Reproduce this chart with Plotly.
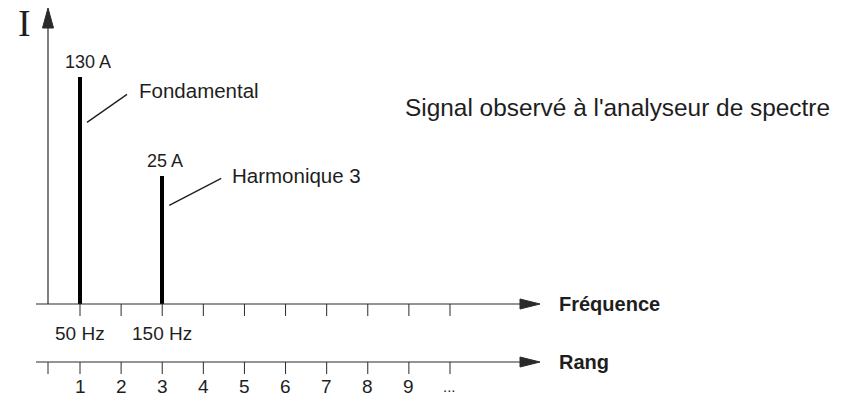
import plotly.graph_objects as go

# ---------------- data ----------------
rang = [1, 3]                       # harmonic rank of each line
freq_hz = [50, 150]                 # frequency of each line
amplitude_labels = ["130 A", "25 A"]
drawn_height = [227, 128]           # schematic bar heights as drawn
line_names = ["Fondamental", "Harmonique 3"]
rang_ticks = [1, 2, 3, 4, 5, 6, 7, 8, 9, 10]
rang_labels = ["1", "2", "3", "4", "5", "6", "7", "8", "9", "..."]
freq_labels = ["50 Hz", "150 Hz"]

# ---------------- geometry ----------------
W, H = 850, 398
PX_PER_RANG = 41.11
XMIN = 1 - 80 / PX_PER_RANG
XMAX = XMIN + W / PX_PER_RANG
Y_FREQ = 304  # pixel row of frequency axis


def px_x(p):
    return XMIN + p / PX_PER_RANG


def px_y(p):
    return Y_FREQ - p


AX_COL = "#2a2a2a"
TXT_COL = "#1e1e1e"
FONT = "Liberation Sans, Arial, sans-serif"

x_origin = px_x(48)
x_start = px_x(36)
x_tip = px_x(540)
y_rang = px_y(362)

fig = go.Figure()

# spectral lines
fig.add_trace(go.Bar(x=rang, y=drawn_height, width=0.105,
                     marker=dict(color="black", line=dict(width=0)),
                     hoverinfo="skip", showlegend=False))

# frequency axis ticks
tx, ty = [], []
for t in rang_ticks:
    tx += [t, t, None]
    ty += [0, -12, None]
fig.add_trace(go.Scatter(x=tx, y=ty, mode="lines",
                         line=dict(color=AX_COL, width=1),
                         hoverinfo="skip", showlegend=False))
# rank axis ticks
rx, ry = [], []
for t in [x_origin] + rang_ticks:
    rx += [t, t, None]
    ry += [y_rang, y_rang - 12, None]
fig.add_trace(go.Scatter(x=rx, y=ry, mode="lines",
                         line=dict(color=AX_COL, width=1),
                         hoverinfo="skip", showlegend=False))

shapes = []
# axis lines
shapes.append(dict(type="line", xref="x", yref="y", x0=x_origin, x1=x_origin,
                   y0=0, y1=px_y(26), line=dict(color=AX_COL, width=1.2)))
shapes.append(dict(type="line", xref="x", yref="y", x0=x_start, x1=px_x(522),
                   y0=0, y1=0, line=dict(color=AX_COL, width=1.2)))
shapes.append(dict(type="line", xref="x", yref="y", x0=x_start, x1=px_x(522),
                   y0=y_rang, y1=y_rang, line=dict(color=AX_COL, width=1.2)))
# arrow heads
for yy in [0, y_rang]:
    shapes.append(dict(type="path", xref="x", yref="y",
                       xsizemode="pixel", ysizemode="pixel",
                       xanchor=x_tip, yanchor=yy,
                       path="M0,0 L-20,5 L-20,-5 Z",
                       fillcolor=AX_COL, line=dict(color=AX_COL, width=1)))
shapes.append(dict(type="path", xref="x", yref="y",
                   xsizemode="pixel", ysizemode="pixel",
                   xanchor=x_origin, yanchor=px_y(8),
                   path="M0,0 L-5.5,-20 L5.5,-20 Z",
                   fillcolor=AX_COL, line=dict(color=AX_COL, width=1)))

# leader lines (start point relative to bar, end offset in px)
leader = [((7, 0.80), (40, 28)), ((7, 0.77), (52, 27))]
for i, ((dx, frac), (ex, ey)) in enumerate(leader):
    x0 = rang[i] + dx / PX_PER_RANG
    y0 = drawn_height[i] * frac
    shapes.append(dict(type="line", xref="x", yref="y",
                       x0=x0, y0=y0, x1=x0 + ex / PX_PER_RANG, y1=y0 + ey,
                       line=dict(color=TXT_COL, width=1.3)))

ann = []
# amplitude labels above lines
xsh = [8, 3]
for i in range(len(rang)):
    ann.append(dict(x=rang[i], y=drawn_height[i], text=amplitude_labels[i],
                    xref="x", yref="y", showarrow=False, xshift=xsh[i], yshift=15,
                    xanchor="center", yanchor="middle",
                    font=dict(family=FONT, size=18, color=TXT_COL)))
# names
name_pos = [(137, 90), (230, 175)]
for i, (px, py) in enumerate(name_pos):
    ann.append(dict(x=px_x(px), y=px_y(py), text=line_names[i], xref="x", yref="y",
                    showarrow=False, xanchor="left", yanchor="middle",
                    font=dict(family=FONT, size=20.5, color=TXT_COL)))
# frequency labels
for i, f in enumerate(freq_hz):
    ann.append(dict(x=f / 50, y=px_y(333), text=freq_labels[i], xref="x", yref="y",
                    showarrow=False, xanchor="center", yanchor="middle",
                    font=dict(family=FONT, size=19, color=TXT_COL)))
# rank labels
for t, lab in zip(rang_ticks, rang_labels):
    ann.append(dict(x=t, y=px_y(386), text=lab, xref="x", yref="y",
                    showarrow=False, xanchor="center", yanchor="middle",
                    font=dict(family=FONT, size=19 if lab != "..." else 15, color=TXT_COL)))
# axis titles
ann.append(dict(x=px_x(557), y=0, text="<b>Fréquence</b>", xref="x", yref="y",
                showarrow=False, xanchor="left", yanchor="middle",
                font=dict(family=FONT, size=20, color=TXT_COL)))
ann.append(dict(x=px_x(557), y=y_rang, text="<b>Rang</b>", xref="x", yref="y",
                showarrow=False, xanchor="left", yanchor="middle",
                font=dict(family=FONT, size=20, color=TXT_COL)))
ann.append(dict(x=px_x(24.5), y=px_y(23), text="I", xref="x", yref="y",
                showarrow=False, xanchor="center", yanchor="middle",
                font=dict(family="Liberation Serif, Times New Roman, serif", size=38, color=TXT_COL)))
ann.append(dict(x=px_x(403), y=px_y(107), text="Signal observé à l'analyseur de spectre",
                xref="x", yref="y", showarrow=False, xanchor="left", yanchor="middle",
                font=dict(family=FONT, size=24.4, color=TXT_COL)))

fig.update_layout(
    width=W, height=H,
    margin=dict(l=0, r=0, t=0, b=0),
    paper_bgcolor="white", plot_bgcolor="white",
    xaxis=dict(range=[XMIN, XMAX], visible=False, domain=[0, 1], fixedrange=True),
    yaxis=dict(range=[px_y(H), px_y(0)], visible=False, domain=[0, 1], fixedrange=True),
    shapes=shapes, annotations=ann, bargap=0,
)

fig.write_html("out.html", config={"displayModeBar": False},
               post_script="document.body.style.margin='0';document.body.style.overflow='hidden';")
